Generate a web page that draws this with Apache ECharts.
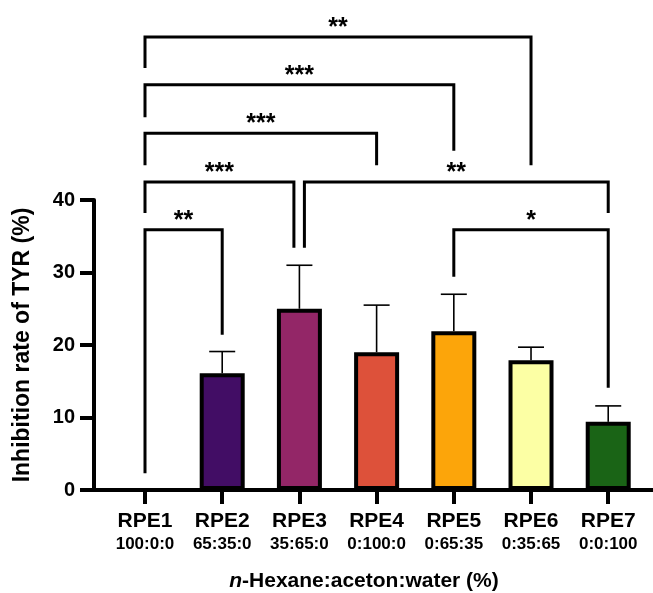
<!DOCTYPE html>
<html>
<head>
<meta charset="utf-8">
<script src="https://cdn.jsdelivr.net/npm/echarts@6/dist/echarts.min.js"></script>
<style>
html,body{margin:0;padding:0;background:#fff;}
#chart{width:653px;height:593px;}
</style>
</head>
<body>
<div id="chart"></div>
<script>
// ---- data ----
const categories = ['RPE1', 'RPE2', 'RPE3', 'RPE4', 'RPE5', 'RPE6', 'RPE7'];
const ratios = ['100:0:0', '65:35:0', '35:65:0', '0:100:0', '0:65:35', '0:35:65', '0:0:100'];
const means = [0, 16.1, 25.0, 19.0, 21.9, 17.9, 9.4];
const errors = [0, 3.0, 6.0, 6.5, 5.1, 1.8, 2.2];
const barColors = ['#ffffff', '#420d65', '#932667', '#dd513a', '#fca50a', '#fcffa4', '#1a6416'];
const yTickValues = [0, 10, 20, 30, 40];

// significance brackets (category indices, heights in data units)
const bracketFrom = [0, 0, 0, 0, 2, 4, 0];
const bracketTo = [5, 4, 3, 2, 6, 6, 1];
const bracketHeight = [62.5, 55.9, 49.2, 42.5, 42.5, 35.9, 35.9];
const bracketLeftEnd = [58.2, 51.4, 44.8, 38.2, 33.4, 29.4, 2.3];
const bracketRightEnd = [44.8, 46.8, 44.8, 33.4, 38.2, 14.1, 21.4];
const bracketLabels = ['**', '***', '***', '***', '**', '*', '**'];

// ---- nudges for legs that share a category and overlap vertically ----
const nudgeL = bracketFrom.map(() => 0);
const nudgeR = bracketFrom.map(() => 0);
for (let a = 0; a < bracketFrom.length; a++) {
  for (let b = 0; b < bracketFrom.length; b++) {
    if (a !== b && bracketTo[a] === bracketFrom[b]) {
      const lo1 = bracketRightEnd[a], hi1 = bracketHeight[a];
      const lo2 = bracketLeftEnd[b], hi2 = bracketHeight[b];
      if (lo1 < hi2 && lo2 < hi1) { nudgeR[a] = -5.5; nudgeL[b] = 5; }
    }
  }
}

const FONT = '"Liberation Sans", Arial, Helvetica, sans-serif';
const chart = echarts.init(document.getElementById('chart'), null, {renderer: 'canvas'});
const catIdx = categories.map((c, i) => i);

const option = {
  animation: false,
  backgroundColor: '#fff',
  grid: {left: 94, right: 0, top: 200, bottom: 103, containLabel: false},
  xAxis: {
    type: 'value',
    min: -0.6606,
    max: 6.580,
    splitLine: {show: false},
    axisLine: {show: true, onZero: true, lineStyle: {color: '#000', width: 4}},
    axisTick: {show: true, customValues: catIdx, length: 14, lineStyle: {color: '#000', width: 4}},
    axisLabel: {
      customValues: catIdx,
      margin: 20,
      formatter: v => '{a|' + categories[Math.round(v)] + '}\n{b|' + ratios[Math.round(v)] + '}',
      rich: {
        a: {fontFamily: FONT, fontWeight: 'bold', fontSize: 21, lineHeight: 23, color: '#000'},
        b: {fontFamily: FONT, fontWeight: 'bold', fontSize: 17, lineHeight: 23, color: '#000'}
      }
    },
    name: '{i|n}-Hexane:aceton:water (%)',
    nameLocation: 'middle',
    nameGap: 81,
    nameTextStyle: {
      fontFamily: FONT, fontWeight: 'bold', fontSize: 21, color: '#000',
      padding: [0, 19, 0, 0],
      rich: {i: {fontFamily: FONT, fontWeight: 'bold', fontStyle: 'italic', fontSize: 21, color: '#000'}}
    }
  },
  yAxis: {
    type: 'value',
    min: yTickValues[0],
    max: yTickValues[yTickValues.length - 1],
    interval: 10,
    splitLine: {show: false},
    axisLine: {show: true, onZero: false, lineStyle: {color: '#000', width: 4}},
    axisTick: {show: true, length: 14, lineStyle: {color: '#000', width: 4}},
    axisLabel: {margin: 19, fontFamily: FONT, fontWeight: 'bold', fontSize: 20, color: '#000'},
    name: 'Inhibition rate of TYR (%)',
    nameLocation: 'middle',
    nameGap: 60,
    nameTextStyle: {fontFamily: FONT, fontWeight: 'bold', fontSize: 23, color: '#000'}
  },
  series: [
    {
      type: 'custom',
      z: 1,
      clip: false,
      data: means.map((m, i) => [i, m, m + errors[i]]),
      encode: {x: 0, y: [1, 2]},
      renderItem: function (params, api) {
        const i = params.dataIndex;
        if (!(errors[i] > 0)) return {type: 'group', children: []};
        const p0 = api.coord([i, means[i]]);
        const p1 = api.coord([i, means[i] + errors[i]]);
        return {
          type: 'group',
          children: [
            {type: 'line', shape: {x1: p0[0], y1: p0[1], x2: p1[0], y2: p1[1]}, style: {stroke: '#000', lineWidth: 1.6}},
            {type: 'line', shape: {x1: p1[0] - 13, y1: p1[1], x2: p1[0] + 13, y2: p1[1]}, style: {stroke: '#000', lineWidth: 1.6}}
          ]
        };
      }
    },
    {
      type: 'bar',
      z: 2,
      barWidth: 45,
      data: means.map((m, i) => ({value: [i, m], itemStyle: {color: barColors[i]}})),
      itemStyle: {borderColor: '#000', borderWidth: 4}
    },
    {
      type: 'custom',
      z: 3,
      clip: false,
      data: bracketFrom.map((f, i) => [f, bracketHeight[i]]),
      encode: {x: 0, y: 1},
      renderItem: function (params, api) {
        const i = params.dataIndex;
        const x1 = api.coord([bracketFrom[i], 0])[0] + nudgeL[i];
        const x2 = api.coord([bracketTo[i], 0])[0] + nudgeR[i];
        const yh = api.coord([0, bracketHeight[i]])[1];
        const yl = api.coord([0, bracketLeftEnd[i]])[1];
        const yr = api.coord([0, bracketRightEnd[i]])[1];
        return {
          type: 'group',
          children: [
            {type: 'polyline', shape: {points: [[x1, yl], [x1, yh], [x2, yh], [x2, yr]]},
             style: {stroke: '#000', lineWidth: 3, fill: null, lineJoin: 'miter'}},
            {type: 'text', style: {text: bracketLabels[i], x: (x1 + x2) / 2, y: yh - 9,
             align: 'center', verticalAlign: 'middle', font: 'bold 25px ' + FONT, fill: '#000'}}
          ]
        };
      }
    }
  ]
};
chart.setOption(option);
</script>
</body>
</html>
